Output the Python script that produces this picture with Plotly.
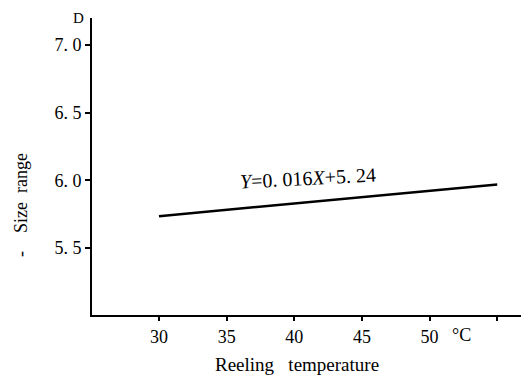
import plotly.graph_objects as go

# Data
temps = [30, 55]
size_range = [5.735, 5.97]
x_tick_vals = [30, 35, 40, 45, 50, 55]
x_tick_text = ["30", "35", "40", "45", "50", ""]
y_tick_vals = [5.5, 6.0, 6.5, 7.0]
y_tick_text = ["5. 5", "6. 0", "6. 5", "7. 0"]

FONT = "'Liberation Serif', 'DejaVu Serif', 'Times New Roman', serif"

# page body has an 8px default margin; compensate so the plot lands where the reference has it
W, H = 521, 371
L, T = 84, 10
R, B = 2, 64
OFF = 8

fig = go.Figure()
fig.add_trace(go.Scatter(x=temps, y=size_range, mode="lines",
                         line=dict(color="black", width=2.5), showlegend=False,
                         hoverinfo="skip"))

pw = W - L - R
ph = H - T - B
x0_page = L + OFF          # plot left edge on page
y1_page = T + OFF + ph     # plot bottom edge on page


def px(xp):
    return (xp - x0_page) / pw


def py(yp):
    return (y1_page - yp) / ph


fig.update_layout(
    width=W, height=H,
    margin=dict(l=L, r=R, t=T, b=B, autoexpand=False),
    paper_bgcolor="white", plot_bgcolor="white",
    font=dict(family=FONT, size=18, color="black"),
    xaxis=dict(range=[25.05, 57.2], tickvals=x_tick_vals, ticktext=x_tick_text,
               showgrid=False, zeroline=False, showline=True, linecolor="black",
               linewidth=2, ticks="outside", ticklen=4, tickwidth=1.5,
               tickcolor="black", tickfont=dict(family=FONT, size=18)),
    yaxis=dict(range=[5.005, 7.2], tickvals=y_tick_vals, ticktext=y_tick_text,
               showgrid=False, zeroline=False, showline=True, linecolor="black",
               linewidth=2, ticks="outside", ticklen=5, tickwidth=1.5,
               tickcolor="black", tickfont=dict(family=FONT, size=18)),
    annotations=[
        dict(text="D", xref="paper", yref="paper", x=px(78), y=py(8.5),
             xanchor="center", yanchor="top",
             showarrow=False, font=dict(family=FONT, size=15)),
        dict(text="°C", xref="paper", yref="paper", x=px(461), y=py(335),
             xanchor="center", yanchor="middle",
             showarrow=False, font=dict(family=FONT, size=18)),
        dict(text="Reeling   temperature", xref="paper", yref="paper",
             x=px(297), y=py(365), xanchor="center", yanchor="middle",
             showarrow=False, font=dict(family=FONT, size=19)),
        dict(text="<i>Y</i>=0. 016<i>X</i>+5. 24", xref="paper", yref="paper",
             x=px(308), y=py(178), xanchor="center", yanchor="middle",
             showarrow=False, textangle=-3, font=dict(family=FONT, size=20)),
        dict(text="-    Size  range", xref="paper", yref="paper",
             x=px(21), y=py(205), xanchor="center", yanchor="middle", textangle=-90,
             showarrow=False, font=dict(family=FONT, size=18)),
    ],
)

fig.write_html("out.html")
